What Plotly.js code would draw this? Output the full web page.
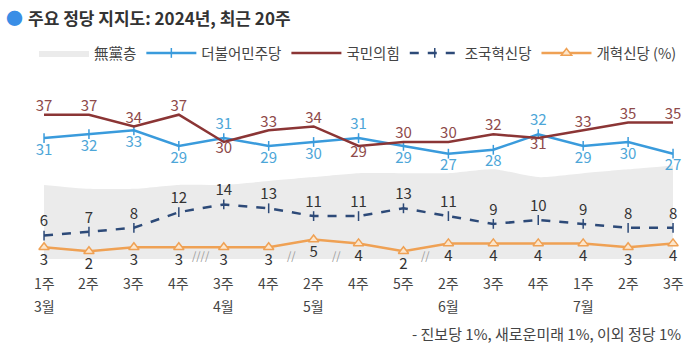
<!DOCTYPE html>
<html>
<head>
<meta charset="utf-8">
<script src="https://cdn.plot.ly/plotly-3.0.1.min.js"></script>
<style>html,body{margin:0;padding:0;background:#fff;}#chart{width:700px;height:354px;}</style>
</head>
<body>
<div id="chart"></div>
<script>
// ---- data ----
const weeks = ['1주','2주','3주','4주','3주','4주','2주','4주','5주','2주','3주','4주','1주','2주','3주'];
const months = ['3월','','','','4월','','5월','','','6월','','','7월','',''];
const ppp = [37,37,34,37,30,33,34,29,30,30,32,31,33,35,35];      // 국민의힘
const dpk = [31,32,33,29,31,29,30,31,29,27,28,32,29,30,27];      // 더불어민주당
const rkp = [6,7,8,12,14,13,11,11,13,11,9,10,9,8,8];             // 조국혁신당
const reform = [3,2,3,3,3,3,5,4,2,4,4,4,4,3,4];                  // 개혁신당
const indep = [19,18,18,19,19,20,21,22,22,22,23,21,22,23,24];    // 無黨층
const breaks = [[3.5,'////'],[5.5,'//'],[6.5,'//'],[8.5,'//']];
const seriesNames = ['無黨층','더불어민주당','국민의힘','조국혁신당','개혁신당 (%)'];
const titleText = '주요 정당 지지도: 2024년, 최근 20주';
const footnote = '- 진보당 1%, 새로운미래 1%, 이외 정당 1%';

const xs = weeks.map((_, i) => i);
const FONT = '"Noto Sans CJK KR", "Noto Sans", sans-serif';

// pixel helpers
const plotTop = 103, plotBottom = 259, H = 156;
const py = p => (plotBottom - p) / H;
const px = p => p / 700;

const traces = [
  {x: xs, y: indep, name: seriesNames[0], type: 'scatter', mode: 'lines',
   fill: 'tozeroy', fillcolor: '#EBEBEB', line: {width: 0, color: '#E6E6E6', shape: 'spline', smoothing: 0.6},
   hoverinfo: 'skip'},
  {x: xs, y: dpk, name: seriesNames[1], type: 'scatter', mode: 'lines+markers+text',
   line: {color: '#3A9BDC', width: 2.5},
   marker: {symbol: 'line-ns-open', size: 7, line: {width: 1.5, color: '#3A9BDC'}},
   text: dpk.map(String),
   textposition: dpk.map((v, i) => v > ppp[i] ? 'top center' : 'bottom center'),
   textfont: {family: FONT, size: 15, color: '#4DA6D8'}, cliponaxis: false},
  {x: xs, y: ppp, name: seriesNames[2], type: 'scatter', mode: 'lines+text',
   line: {color: '#8B3535', width: 2.5},
   text: ppp.map(String),
   textposition: ppp.map((v, i) => v > dpk[i] ? 'top center' : 'bottom center'),
   textfont: {family: FONT, size: 15, color: '#8E4A4A'}, cliponaxis: false},
  {x: xs, y: rkp, name: seriesNames[3], type: 'scatter', mode: 'lines+markers+text',
   line: {color: '#2D4A78', width: 2.5, dash: 'dash'},
   marker: {symbol: 'line-ns-open', size: 7, line: {width: 1.5, color: '#2D4A78'}},
   text: rkp.map(String), textposition: 'top center',
   textfont: {family: FONT, size: 15, color: '#333333'}, cliponaxis: false},
  {x: xs, y: reform, name: seriesNames[4], type: 'scatter', mode: 'lines+markers+text',
   line: {color: '#EFA154', width: 2.5},
   marker: {symbol: 'triangle-up', size: 9, color: '#FCE6CC', line: {width: 1.5, color: '#EFA154'}},
   text: reform.map(String), textposition: 'bottom center',
   textfont: {family: FONT, size: 15, color: '#333333'}, cliponaxis: false}
];

const annotations = [];
weeks.forEach((w, i) => {
  annotations.push({x: i, xref: 'x', y: py(283), yref: 'paper', text: w, showarrow: false,
    xanchor: 'center', yanchor: 'middle', font: {family: FONT, size: 14, color: '#444'}});
  if (months[i]) annotations.push({x: i, xref: 'x', y: py(306), yref: 'paper', text: months[i], showarrow: false,
    xanchor: 'center', yanchor: 'middle', font: {family: FONT, size: 14, color: '#444'}});
});
breaks.forEach(b => annotations.push({x: b[0], xref: 'x', y: py(255), yref: 'paper', text: b[1], showarrow: false,
  xanchor: 'center', yanchor: 'middle', font: {family: FONT, size: 11, color: '#999'}}));
annotations.push({x: px(14), xref: 'paper', y: py(17), yref: 'paper', text: '●', showarrow: false,
  xanchor: 'center', yanchor: 'middle', font: {family: FONT, size: 17, color: '#3A8EE6'}});
annotations.push({x: px(26), xref: 'paper', y: py(17), yref: 'paper', text: '<b>' + titleText + '</b>', showarrow: false,
  xanchor: 'left', yanchor: 'middle', font: {family: FONT, size: 17, color: '#333'}});
annotations.push({x: px(683), xref: 'paper', y: py(333), yref: 'paper', text: footnote, showarrow: false,
  xanchor: 'right', yanchor: 'middle', font: {family: FONT, size: 15, color: '#444'}});

const layout = {
  width: 700, height: 354,
  margin: {l: 0, r: 0, t: plotTop, b: 354 - plotBottom},
  paper_bgcolor: '#fff', plot_bgcolor: '#fff',
  showlegend: true,
  legend: {orientation: 'h', x: px(34), xanchor: 'left', y: py(53), yanchor: 'middle',
    font: {family: FONT, size: 14.5, color: '#444'}, traceorder: 'normal', itemwidth: 50},
  xaxis: {range: [-0.98, 14.6], showgrid: false, zeroline: false, showline: false, showticklabels: false, fixedrange: true},
  yaxis: {range: [0, 40], showgrid: false, zeroline: false, showline: false, showticklabels: false, fixedrange: true},
  annotations: annotations,
  font: {family: FONT}
};

Plotly.newPlot('chart', traces, layout, {displayModeBar: false, staticPlot: true});
</script>
</body>
</html>
